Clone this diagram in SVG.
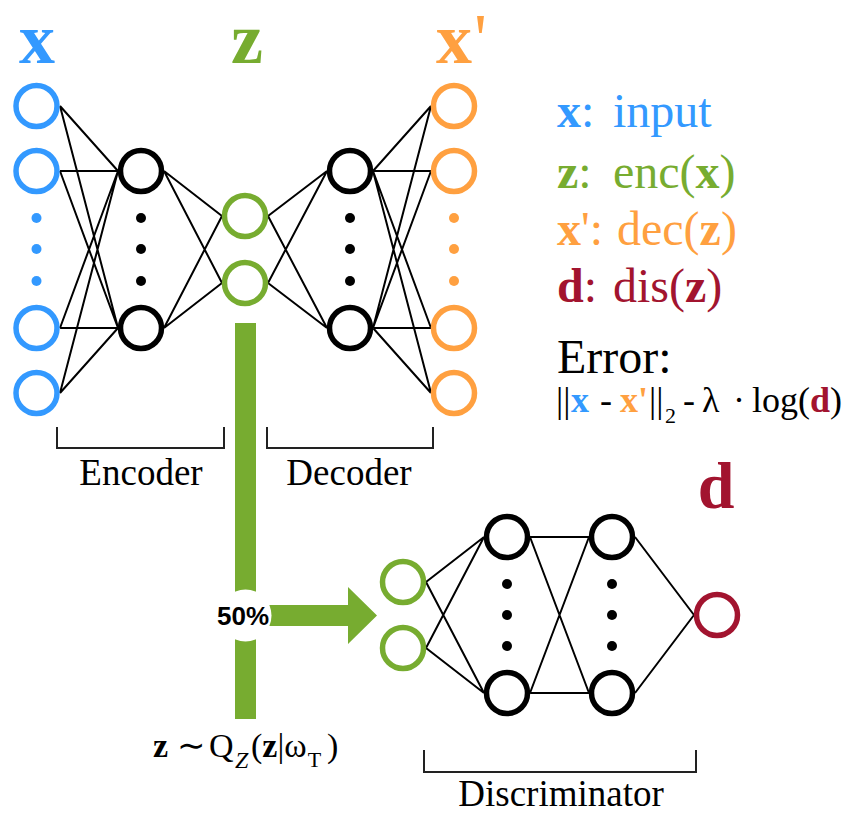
<svg xmlns="http://www.w3.org/2000/svg" width="852" height="814" viewBox="0 0 852 814">
<style>
.n{fill:none;stroke-width:5.5}
.blue{stroke:#3399FF}.green{stroke:#77AC30}.orange{stroke:#FFA040}.red{stroke:#A2142F}.blk{stroke:#000}
.ln{stroke:#000;stroke-width:2;fill:none}
.br{stroke:#222;stroke-width:2;fill:none}
.serif{font-family:"Liberation Serif","Times New Roman",serif}
.b{font-weight:bold}
.cb{fill:#3399FF}.cg{fill:#77AC30}.co{fill:#FFA040}.cr{fill:#A2142F}
</style>
<rect width="852" height="814" fill="#fff"/>

<g id="connectors">
  <path class="ln" d="M60,106L118,171M60,106L118,328M60,171L118,171M60,171L118,328M60,328L118,171M60,328L118,328M60,393L118,171M60,393L118,328"/>
  <path class="ln" d="M164,171L222,216M164,171L222,283M164,328L222,216M164,328L222,283"/>
  <path class="ln" d="M268,216L327,171M268,216L327,328M268,283L327,171M268,283L327,328"/>
  <path class="ln" d="M373,171L431,106M373,171L431,171M373,171L431,328M373,171L431,393M373,328L431,106M373,328L431,171M373,328L431,328M373,328L431,393"/>
  <path class="ln" d="M426,582L484,537M426,582L484,693M426,648L484,537M426,648L484,693"/>
  <path class="ln" d="M530,537L589,537M530,537L589,693M530,693L589,537M530,693L589,693"/>
  <path class="ln" d="M635,537L694,615M635,693L694,615"/>
  <rect x="235" y="323" width="21" height="396" fill="#77AC30"/>
  <polygon points="256,605 348,605 348,587 377,615.5 348,644 348,626 256,626" fill="#77AC30"/>
  <circle cx="245.5" cy="615.5" r="26" fill="#fff"/>
  <text x="243" y="625" text-anchor="middle" font-family="'Liberation Sans',Arial,sans-serif" font-weight="bold" font-size="26" fill="#000">50%</text>
</g>

<g id="input-layer">
  <circle class="n blue" cx="36.5" cy="106" r="20.5"/>
  <circle class="n blue" cx="36.5" cy="171" r="20.5"/>
  <circle class="n blue" cx="36.5" cy="328" r="20.5"/>
  <circle class="n blue" cx="36.5" cy="393" r="20.5"/>
  <circle cx="36.5" cy="218" r="5" fill="#3399FF"/>
  <circle cx="36.5" cy="249" r="5" fill="#3399FF"/>
  <circle cx="36.5" cy="281" r="5" fill="#3399FF"/>
</g>
<g id="encoder-hidden">
  <circle class="n blk" cx="141" cy="171" r="20.5"/>
  <circle class="n blk" cx="141" cy="328" r="20.5"/>
  <circle cx="141" cy="218" r="5" fill="#000"/>
  <circle cx="141" cy="249" r="5" fill="#000"/>
  <circle cx="141" cy="281" r="5" fill="#000"/>
</g>
<g id="latent">
  <circle class="n green" cx="245" cy="216" r="20.5"/>
  <circle class="n green" cx="245" cy="283" r="20.5"/>
</g>
<g id="decoder-hidden">
  <circle class="n blk" cx="350" cy="171" r="20.5"/>
  <circle class="n blk" cx="350" cy="328" r="20.5"/>
  <circle cx="350" cy="218" r="5" fill="#000"/>
  <circle cx="350" cy="249" r="5" fill="#000"/>
  <circle cx="350" cy="281" r="5" fill="#000"/>
</g>
<g id="output-layer">
  <circle class="n orange" cx="454" cy="106" r="20.5"/>
  <circle class="n orange" cx="454" cy="171" r="20.5"/>
  <circle class="n orange" cx="454" cy="328" r="20.5"/>
  <circle class="n orange" cx="454" cy="393" r="20.5"/>
  <circle cx="454" cy="218" r="5" fill="#FFA040"/>
  <circle cx="454" cy="249" r="5" fill="#FFA040"/>
  <circle cx="454" cy="281" r="5" fill="#FFA040"/>
</g>

<g id="disc-input">
  <circle class="n green" cx="403" cy="582" r="20.5"/>
  <circle class="n green" cx="403" cy="648" r="20.5"/>
</g>
<g id="disc-hidden1">
  <circle class="n blk" cx="507" cy="537" r="20.5"/>
  <circle class="n blk" cx="507" cy="693" r="20.5"/>
  <circle cx="507" cy="584" r="5" fill="#000"/>
  <circle cx="507" cy="615" r="5" fill="#000"/>
  <circle cx="507" cy="646" r="5" fill="#000"/>
</g>
<g id="disc-hidden2">
  <circle class="n blk" cx="612" cy="537" r="20.5"/>
  <circle class="n blk" cx="612" cy="693" r="20.5"/>
  <circle cx="612" cy="584" r="5" fill="#000"/>
  <circle cx="612" cy="615" r="5" fill="#000"/>
  <circle cx="612" cy="646" r="5" fill="#000"/>
</g>
<g id="disc-output">
  <circle class="n red" cx="717" cy="615" r="20.5"/>
</g>

<g id="labels" class="serif">
  <text x="37" y="63" text-anchor="middle" font-size="72" class="b cb">x</text>
  <text x="247" y="63" text-anchor="middle" font-size="72" class="b cg">z</text>
  <text x="454" y="63" text-anchor="middle" font-size="72" class="b co">x</text>
  <text x="474" y="63" font-size="72" class="co">'</text>
  <text x="716" y="508" text-anchor="middle" font-size="66" class="b cr">d</text>

  <path class="br" d="M57,427V448H224V427"/>
  <text x="141" y="485" text-anchor="middle" font-size="37">Encoder</text>
  <path class="br" d="M267,427V448H433V427"/>
  <text x="349" y="485" text-anchor="middle" font-size="37">Decoder</text>
  <path class="br" d="M424,750V772H696V750"/>
  <text x="561" y="806" text-anchor="middle" font-size="37">Discriminator</text>

  <text y="757" font-size="34"><tspan x="153" class="b">z</tspan><tspan x="177">∼</tspan><tspan x="209">Q</tspan><tspan x="235" y="768" font-size="24" font-style="italic">Z</tspan><tspan x="251" y="757">(</tspan><tspan class="b">z</tspan><tspan>|</tspan><tspan>ω</tspan><tspan dx="1" y="767" font-size="22">T</tspan><tspan x="327" y="757">)</tspan></text>
</g>

<g id="legend" class="serif" font-size="48">
  <text x="557" y="127" class="cb"><tspan class="b">x</tspan>:<tspan x="613">input</tspan></text>
  <text x="557" y="188" class="cg"><tspan class="b">z</tspan>:<tspan x="613">enc(</tspan><tspan class="b">x</tspan>)</text>
  <text x="557" y="245" class="co"><tspan class="b">x</tspan>':<tspan x="617">dec(</tspan><tspan class="b">z</tspan>)</text>
  <text x="557" y="302" class="cr"><tspan class="b">d</tspan>:<tspan x="613">dis(</tspan><tspan class="b">z</tspan>)</text>
  <text x="557" y="373">Error:</text>
  <text y="412" font-size="36"><tspan x="556">||</tspan><tspan x="571" class="b cb">x</tspan><tspan x="600">-</tspan><tspan x="620" class="b co">x'</tspan><tspan x="649">||</tspan><tspan x="665" y="423" font-size="22">2</tspan><tspan x="683" y="412">-</tspan><tspan x="702">λ</tspan><tspan x="733">·</tspan><tspan x="752">log(</tspan><tspan class="b cr">d</tspan><tspan>)</tspan></text>
</g>
</svg>
